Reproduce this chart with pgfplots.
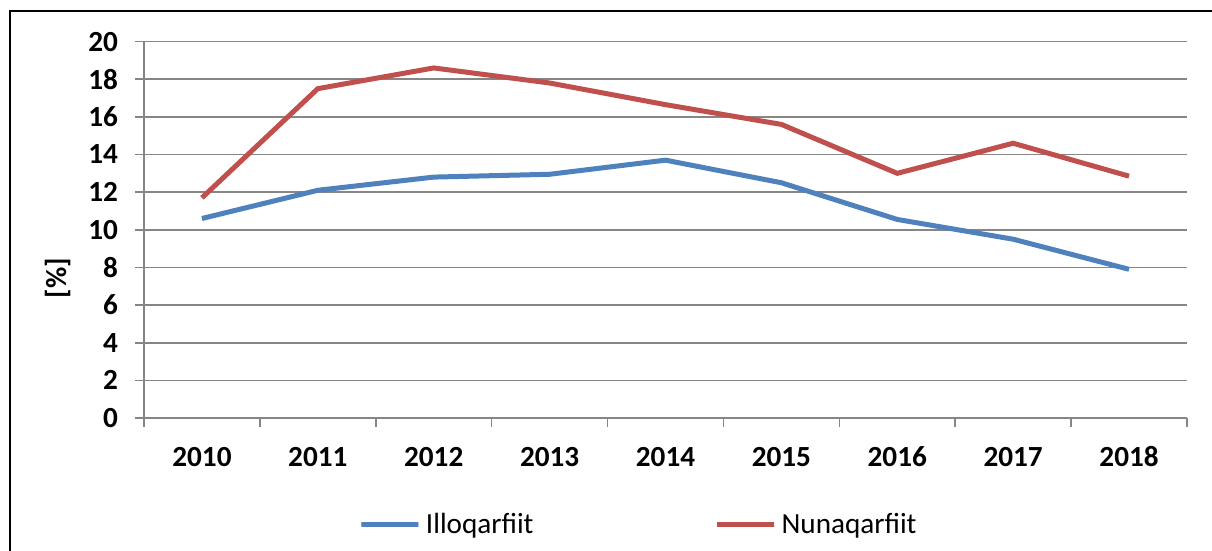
\documentclass[border=0pt]{standalone}
\usepackage{fontspec}
\setmainfont{Carlito}
\usepackage{pgfplots}
\pgfplotsset{compat=1.18}
\definecolor{cblue}{HTML}{4F81BD}
\definecolor{cred}{HTML}{C0504D}
\definecolor{cgrid}{HTML}{868686}
\begin{document}
\begin{tikzpicture}[x=0.5pt,y=0.5pt]
\begin{axis}[
  width=521.5pt, height=188.2pt, scale only axis,
  xmin=-0.5, xmax=8.5, ymin=0, ymax=20,
  axis x line*=bottom, axis y line*=left,
  axis line style={draw=cgrid, line width=0.8pt, -},
  xtick={0,...,8},
  xticklabels={2010,2011,2012,2013,2014,2015,2016,2017,2018},
  minor xtick={-0.5,0.5,...,8.5},
  major x tick style={draw=none},
  minor x tick style={draw=cgrid, line width=0.8pt},
  ytick={0,2,...,20},
  y tick style={draw=cgrid, line width=0.8pt},
  tick align=outside, major tick length=4.5pt, minor tick length=4.5pt,
  ymajorgrids, grid style={draw=cgrid, line width=0.8pt},
  /pgf/number format/assume math mode=true,
  tick label style={font=\bfseries\fontsize{14.6}{16}\selectfont, text=black},
  xticklabel style={yshift=-6pt, text height=10pt, text depth=0pt},
  yticklabel style={xshift=-5pt},
  legend columns=2,
  legend style={at={(0.2061,-0.284)}, anchor=west, draw=none, fill=none,
    inner sep=0pt, outer sep=0pt, nodes={inner sep=0pt, outer sep=0pt},
    font=\fontsize{14.6}{16}\selectfont,
    /tikz/every odd column/.append style={column sep=2.5pt},
    /tikz/every even column/.append style={column sep=90.5pt}},
  legend image code/.code={\path (0pt,0pt) rectangle (28.5pt,0pt);
    \draw[#1, line width=2.5pt, line cap=round] (1.25pt,0pt) -- (27.25pt,0pt);},
]
\addplot[cblue, line width=2.5pt] coordinates {(0,10.6) (1,12.1) (2,12.8) (3,12.95) (4,13.7) (5,12.5) (6,10.55) (7,9.5) (8,7.9)};
\addlegendentry{Illoqarfiit}
\addplot[cred, line width=2.5pt] coordinates {(0,11.7) (1,17.5) (2,18.6) (3,17.8) (4,16.65) (5,15.6) (6,13.0) (7,14.6) (8,12.85)};
\addlegendentry{Nunaqarfiit}
\coordinate (O) at (rel axis cs:0,0);
\end{axis}
\pgfresetboundingbox
\useasboundingbox ([shift={(-144,-133)}]O) rectangle ++(1212,551);
\draw[line width=1pt] ([shift={(-134,-182)}]O) -- ([shift={(-134,407)}]O) -- ([shift={(1115,407)}]O);
\node[rotate=90, font=\bfseries\fontsize{14.6}{16}\selectfont] at ([shift={(-86,140)}]O) {[\%]};
\end{tikzpicture}
\end{document}
